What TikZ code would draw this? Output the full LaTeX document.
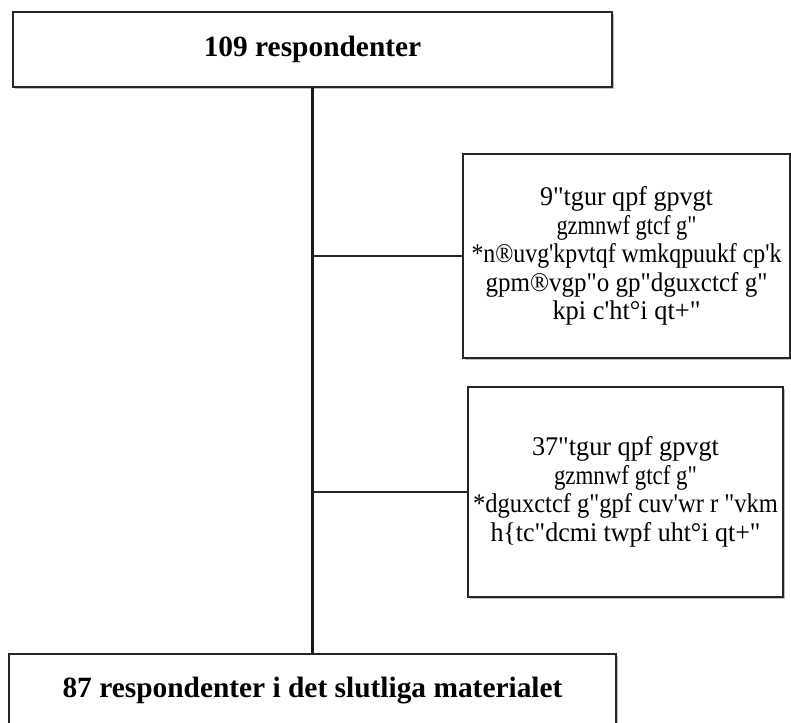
\documentclass[tikz,border=0pt]{standalone}
\usepackage{fontspec}
\setmainfont{Liberation Serif}[Ligatures=TeXOff]
\usepackage{graphicx}
\usetikzlibrary{shadows}
\newlength\fitw
\newcommand\fitln[2]{\settowidth\fitw{#2}\pgfmathsetmacro\fitsf{#1/\fitw}\scalebox{\fitsf}[1]{#2}}
\newcommand\sidestack[1]{\vbox{\fontsize{27pt}{28.5pt}\selectfont\halign{\hfil##\hfil\cr#1\crcr}}}
\begin{document}
\begin{tikzpicture}[x=1pt,y=-1pt,
  box/.style={draw=black!85, line width=1.5pt, fill=white,
    drop shadow={shadow xshift=1.5pt, shadow yshift=-2pt, opacity=0.25, fill=black},
    inner sep=0pt},
  side/.style={box},
  maintext/.style={font=\bfseries\fontsize{29.4pt}{34pt}\selectfont},
  trunk/.style={line width=2.2pt, draw=black!90},
  branch/.style={line width=1.2pt, draw=black!85}]
\useasboundingbox (0,0) rectangle (791,722);
\clip (0,0) rectangle (791,722);
\fill[white] (0,0) rectangle (791,722);
\node[box, minimum width=599pt, minimum height=75pt, maintext] (first) at (312.5,49.5) {109 respondenter};
\node[box, minimum width=607pt, minimum height=100pt, anchor=north] (final) at (312.5,653) {};
\node[maintext, anchor=base, inner sep=0pt] (finaltext) at (312.5,697) {87 respondenter i det slutliga materialet};
\node[side, minimum width=327pt, minimum height=204pt] (ex1) at (626.5,256)
  {\sidestack{\fitln{173}{9"tgur qpf gpvgt}\cr
   \fitln{140}{gzmnwf gtcf g"}\cr
   \fitln{310}{*n®uvg'kpvtqf wmkqpuukf cp'k}\cr
   \fitln{282}{gpm®vgp"o gp"dguxctcf g"}\cr
   \fitln{148}{kpi c'ht°i qt+"}}};
\node[side, minimum width=315pt, minimum height=210pt] (ex2) at (625.5,492)
  {\sidestack{\fitln{187}{37"tgur qpf gpvgt}\cr
   \fitln{143}{gzmnwf gtcf g"}\cr
   \fitln{305}{*dguxctcf g"gpf cuv'wr r "vkm}\cr
   \fitln{270}{h\{tc"dcmi twpf uht°i qt+"}}};
\draw[trunk] (first.south) -- (final.north);
\draw[branch] (ex1.west) -- (ex1.west -| first.south);
\draw[branch] (ex2.west) -- (ex2.west -| first.south);
\end{tikzpicture}
\end{document}
